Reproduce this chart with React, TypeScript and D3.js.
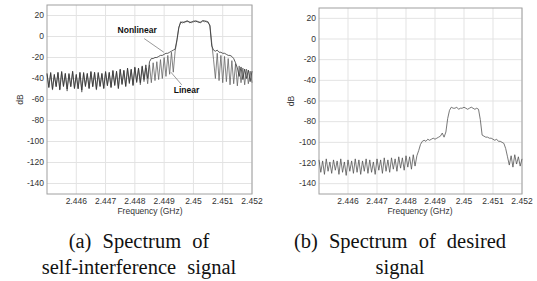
import React from 'react';
import * as d3 from 'd3';

// frequency grid of the captured spectra (GHz)
const freqStart = 2.445;
const freqStep = 0.0000625;

// (a) self-interference, linear PA model (dB)
const linearDb = [
  -36, -49, -34, -51, -37, -47, -35, -50, -33, -48, -36, -52, -35, -47, -34, -50,
  -37, -49, -35, -53, -34, -48, -36, -50, -33, -47, -35, -51, -34, -48, -36, -50,
  -33, -46, -35, -49, -32, -47, -34, -50, -32, -46, -33, -48, -31, -45, -32, -47,
  -30, -44, -31, -46, -29, -43, -30, -45,
  -27, -44, -25, -42, -24, -41, -22, -40, -20, -38, -18, -36, -15, -34,
  -14, -4, 9,
  13, 14, 13, 15, 14, 14, 13, 15, 14, 15, 13, 14, 15, 14, 15, 13,
  11, -6,
  -22, -40, -16, -42, -18, -44, -19, -43, -21, -46, -23, -45, -26, -47, -28, -44,
  -30, -46, -31, -45, -33, -44,
];

// (a) self-interference, nonlinear PA model (dB)
const nonlinearDb = [
  -35, -48, -35, -50, -36, -48, -34, -51, -34, -47, -35, -50, -36, -48, -33, -49,
  -36, -50, -34, -51, -35, -47, -35, -49, -34, -48, -34, -50, -35, -47, -35, -49,
  -34, -47, -34, -48, -33, -46, -33, -49, -31, -45, -32, -47, -30, -44, -31, -46,
  -29, -43, -30, -44, -28, -41, -27, -40,
  -24, -21,
  -21, -20, -20, -19, -18, -18, -17, -16, -16, -15, -14, -13,
  -12, -3, 8,
  14, 13, 14, 14, 15, 13, 14, 14, 15, 14, 14, 13, 15, 15, 14, 14,
  10, -9,
  -13, -14, -13, -15, -15, -16, -16, -17, -18, -18, -19, -21,
  -25, -30, -38, -29, -41, -31, -40, -32, -43, -33,
];

// (b) desired signal (dB)
const desiredDb = [
  -117, -129, -118, -131, -116, -128, -119, -130, -117, -127, -118, -131, -116, -129,
  -119, -132, -117, -128, -118, -130, -116, -129, -117, -131, -118, -128, -116, -130,
  -117, -129, -119, -131, -116, -127, -117, -130, -115, -128, -117, -129, -115, -126,
  -116, -128, -114, -125, -115, -127, -113, -124, -114, -126, -112, -123,
  -113, -108, -102, -99,
  -98, -99, -97, -98, -97, -96, -97, -96, -95, -94, -91, -95,
  -90, -77, -69,
  -66, -67, -67, -66, -68, -67, -67, -66, -67, -68, -67, -66, -67, -68, -67, -68,
  -78, -93,
  -94, -95, -95, -96, -96, -97, -98, -97, -99, -99, -100, -101,
  -106, -114, -122, -113, -124, -112, -121, -114, -123, -116,
];

const xTicks = [2.446, 2.447, 2.448, 2.449, 2.45, 2.451, 2.452];
const yTicks = [20, 0, -20, -40, -60, -80, -100, -120, -140];
const xDomain = [2.445, 2.452];
const yDomain = [-150, 30];

const W = 537;
const H = 281;
const FONT = 'Liberation Sans, Arial, sans-serif';

type Series = { values: number[]; color: string };
type Note = { text: string; at: [number, number]; from: [number, number]; to: [number, number] };

const Panel = ({ left, right, top, bottom, series, notes, xLabelX, dbX }: {
  left: number; right: number; top: number; bottom: number;
  series: Series[]; notes: Note[]; xLabelX: number; dbX: number;
}) => {
  const x = d3.scaleLinear().domain(xDomain).range([left, right]);
  const y = d3.scaleLinear().domain(yDomain).range([bottom, top]);
  const path = d3.line<number>()
    .x((_, i) => x(freqStart + i * freqStep))
    .y(d => y(d));

  return (
    <g>
      {yTicks.map(t => (
        <g key={'y' + t}>
          <line x1={left} x2={right} y1={y(t)} y2={y(t)} stroke="#e3e3e3" strokeWidth={1} />
          <text x={left - 3} y={y(t)} dy="0.33em" textAnchor="end" fontSize={8.5} fill="#333" fontFamily={FONT}>{t}</text>
        </g>
      ))}
      {xTicks.map(t => (
        <g key={'x' + t}>
          <line x1={x(t)} x2={x(t)} y1={top} y2={bottom} stroke="#e3e3e3" strokeWidth={1} />
          <text x={x(t)} y={bottom + 10} textAnchor="middle" fontSize={8.5} fill="#333" fontFamily={FONT}>{String(+t.toFixed(3))}</text>
        </g>
      ))}
      <rect x={left} y={top} width={right - left} height={bottom - top} fill="none" stroke="#a0a0a0" strokeWidth={1} />
      {series.map((s, i) => (
        <path key={i} d={path(s.values) || ''} fill="none" stroke={s.color} strokeWidth={0.8} />
      ))}
      {notes.map(n => (
        <g key={n.text}>
          <line x1={x(n.from[0])} y1={y(n.from[1])} x2={x(n.to[0])} y2={y(n.to[1])} stroke="#555" strokeWidth={0.6} />
          <text x={x(n.at[0])} y={y(n.at[1])} fontSize={8.5} fontWeight="bold" fill="#111" fontFamily={FONT}>{n.text}</text>
        </g>
      ))}
      <text x={xLabelX} y={bottom + 20} textAnchor="middle" fontSize={8.5} fill="#333" fontFamily={FONT}>Frequency (GHz)</text>
      <text transform={`translate(${dbX},${(top + bottom) / 2}) rotate(-90)`} textAnchor="middle" dy="0.33em" fontSize={8.5} fill="#333" fontFamily={FONT}>dB</text>
    </g>
  );
};

const Caption = ({ cx, lines }: { cx: number; lines: string[] }) => (
  <g>
    {lines.map((l, i) => (
      <text key={i} x={cx} y={248 + i * 26} textAnchor="middle" fontSize={20.5} wordSpacing={6}
        fill="#111" fontFamily="Liberation Serif, Times New Roman, serif">{l}</text>
    ))}
  </g>
);

export default function App() {
  const notesA: Note[] = [
    { text: 'Nonlinear', at: [2.44741, 3], from: [2.44832, -2], to: [2.44899, -15] },
    { text: 'Linear', at: [2.44933, -54], from: [2.44923, -34], to: [2.4496, -46] },
  ];
  return (
    <svg width={W} height={H} style={{ position: 'absolute', left: 0, top: 0, background: '#fff' }}>
      <Panel left={47} right={252} top={5} bottom={194} xLabelX={150} dbX={20}
        series={[{ values: linearDb, color: '#666' }, { values: nonlinearDb, color: '#333' }]}
        notes={notesA} />
      <Panel left={319} right={522} top={8} bottom={194} xLabelX={420} dbX={291}
        series={[{ values: desiredDb, color: '#555' }]} notes={[]} />
      <Caption cx={139} lines={['(a) Spectrum of', 'self-interference signal']} />
      <Caption cx={400} lines={['(b) Spectrum of desired', 'signal']} />
    </svg>
  );
}
